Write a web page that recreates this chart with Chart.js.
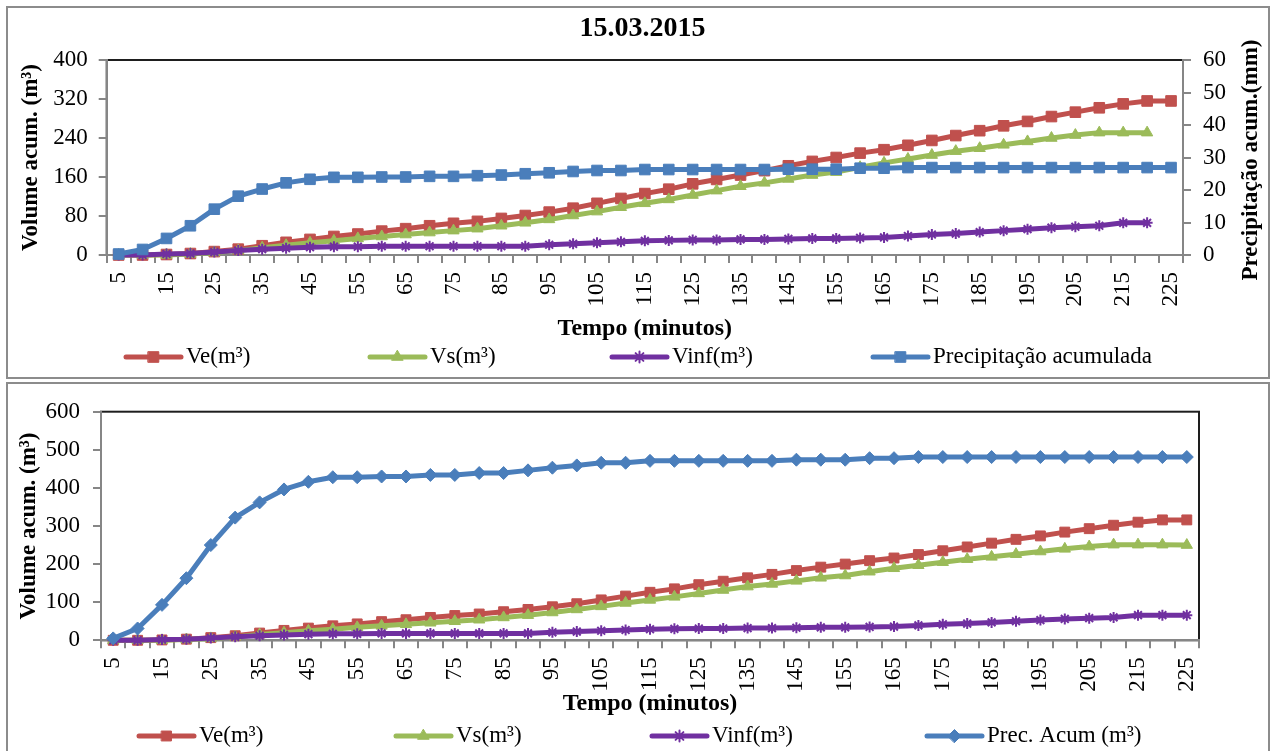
<!DOCTYPE html>
<html lang="pt">
<head>
<meta charset="utf-8">
<title>Volume acumulado - 15.03.2015</title>
<script src="https://cdn.jsdelivr.net/npm/chart.js@4.4.1/dist/chart.umd.min.js"></script>
<style>
  html, body { margin: 0; padding: 0; background: #fff; }
  body { width: 1276px; height: 751px; position: relative; overflow: hidden; }
  .box { position: absolute; left: 6px; width: 1264px; border: 2px solid #8c8c8c; box-sizing: border-box; background: #fff; }
  #boxTop { top: 6px; height: 373px; }
  #boxBottom { top: 382px; height: 374px; }
  canvas { position: absolute; left: 0; top: 0; }
</style>
</head>
<body>
<div class="box" id="boxTop"><canvas id="chartTop" width="1260" height="369"></canvas></div>
<div class="box" id="boxBottom"><canvas id="chartBottom" width="1260" height="367"></canvas></div>
<script>
// Tempo (minutos)
const minutes = ['5', '10', '15', '20', '25', '30', '35', '40', '45', '50', '55', '60', '65', '70', '75',
                 '80', '85', '90', '95', '100', '105', '110', '115', '120', '125', '130', '135', '140', '145', '150',
                 '155', '160', '165', '170', '175', '180', '185', '190', '195', '200', '205', '210', '215', '220', '225'];

// Volumes acumulados (m³)
const ve = [0, 0, 1, 3, 7, 12, 19, 26, 32, 38, 43, 49, 54, 60, 65,
            69, 75, 81, 88, 96, 106, 116, 126, 135, 146, 155, 164, 173, 183, 192,
            200, 209, 216, 225, 235, 245, 255, 265, 274, 284, 293, 302, 310, 316, 316];
const vs = [0, 0, 0, 2, 5, 9, 15, 20, 25, 29, 34, 38, 42, 46, 50,
            54, 60, 66, 73, 81, 89, 98, 106, 114, 123, 132, 141, 148, 156, 164,
            170, 180, 189, 197, 205, 213, 219, 226, 233, 240, 246, 251, 251, 251, 250];
const vinf = [0, 0, 2, 3, 6, 9, 12, 14, 16, 17, 17, 18, 18, 18, 18,
              18, 18, 18, 21, 23, 25, 27, 29, 30, 31, 31, 32, 32, 33, 34,
              34, 35, 36, 39, 42, 44, 47, 50, 53, 56, 58, 60, 66, 66, 66];

// Precipitação acumulada (mm) - gráfico de cima
const precMm = [0.3, 1.7, 5.1, 9.0, 14.1, 18.1, 20.3, 22.2, 23.3, 23.9, 23.9, 24.0, 24.0, 24.2, 24.2,
                24.4, 24.6, 25.0, 25.3, 25.7, 26.0, 26.0, 26.3, 26.3, 26.3, 26.3, 26.3, 26.3, 26.4, 26.4,
                26.4, 26.7, 26.7, 26.9, 26.9, 26.9, 26.9, 26.9, 26.9, 26.9, 26.9, 26.9, 26.9, 26.9, 26.9];
// Prec. Acum (m³) - gráfico de baixo
const precM3 = [5, 31, 93, 163, 250, 322, 362, 396, 416, 428, 428, 430, 430, 434, 434,
                439, 439, 446, 453, 459, 466, 466, 471, 471, 471, 471, 471, 471, 474, 474,
                474, 478, 478, 481, 481, 481, 481, 481, 481, 481, 481, 481, 481, 481, 481];

const RED = '#C0504D';
const GREEN = '#9BBB59';
const PURPLE = '#7030A0';
const BLUE = '#4A7EBB';
const AXIS_GRAY = '#868686';
const FAMILY = "'Liberation Serif', 'Times New Roman', serif";

Chart.defaults.font.family = FAMILY;
Chart.defaults.color = '#000';

// moldura da área do gráfico, legenda espaçada tipo Excel e título do eixo secundário
const excelDecor = {
    id: 'excelDecor',
    beforeDraw(chart) {
        const a = chart.chartArea;
        const ctx = chart.ctx;
        ctx.save();
        ctx.strokeStyle = '#1e1e1e';
        ctx.lineWidth = 2;
        ctx.strokeRect(a.left, a.top, a.right - a.left, a.bottom - a.top);
        ctx.restore();
    },
    afterDraw(chart, args, opts) {
        const ctx = chart.ctx;
        ctx.save();
        chart.data.datasets.forEach((ds, i) => {
            const x = opts.legendX[i];
            const y = opts.legendY;
            ctx.strokeStyle = ds.borderColor;
            ctx.lineWidth = ds.borderWidth;
            ctx.lineCap = 'round';
            ctx.beginPath();
            ctx.moveTo(x, y);
            ctx.lineTo(x + 55, y);
            ctx.stroke();
            ctx.fillStyle = ds.pointBackgroundColor;
            ctx.strokeStyle = ds.pointBorderColor;
            ctx.lineWidth = ds.pointBorderWidth;
            Chart.helpers.drawPoint(ctx, {
                pointStyle: ds.pointStyle,
                radius: ds.pointRadius,
                rotation: 0,
                borderWidth: ds.pointBorderWidth
            }, x + 27.5, y);
            ctx.fillStyle = '#000';
            ctx.font = '23px ' + FAMILY;
            ctx.textAlign = 'left';
            ctx.textBaseline = 'middle';
            ctx.fillText(ds.label, x + 60, y);
        });
        if (opts.rightTitle) {
            ctx.translate(opts.rightTitleX, opts.rightTitleY);
            ctx.rotate(-Math.PI / 2);
            ctx.fillStyle = '#000';
            ctx.font = 'bold 23px ' + FAMILY;
            ctx.textAlign = 'center';
            ctx.textBaseline = 'middle';
            ctx.fillText(opts.rightTitle, 0, 0);
        }
        ctx.restore();
    }
};

function serie(label, data, color, style, radius, axis, order) {
    return {
        label: label,
        data: data,
        yAxisID: axis,
        order: order,
        borderColor: color,
        backgroundColor: color,
        borderWidth: 5,
        borderJoinStyle: 'round',
        borderCapStyle: 'round',
        tension: 0,
        pointStyle: style,
        pointRadius: radius,
        pointBackgroundColor: color,
        pointBorderColor: color,
        pointBorderWidth: style === 'star' ? 2 : 1,
        clip: false
    };
}

function xAxis(height) {
    return {
        type: 'category',
        offset: true,
        grid: { offset: true, drawOnChartArea: false, drawTicks: true, tickLength: 8, color: AXIS_GRAY, lineWidth: 2 },
        border: { display: true, color: AXIS_GRAY, width: 2 },
        ticks: {
            autoSkip: false,
            minRotation: 90,
            maxRotation: 90,
            padding: 9,
            font: { size: 23 },
            callback: function(value, index) {
                return index % 2 === 0 ? this.getLabelForValue(value) : '';
            }
        },
        title: { display: true, text: 'Tempo (minutos)', padding: 0, font: { size: 24, weight: 'bold' } },
        afterFit: (s) => { s.height = height; }
    };
}

function yAxis(pos, max, step, pad, width, titleText) {
    return {
        position: pos,
        min: 0,
        max: max,
        grid: { drawOnChartArea: false, drawTicks: true, tickLength: 8, color: AXIS_GRAY, lineWidth: 2 },
        border: { display: true, color: AXIS_GRAY, width: 2 },
        ticks: { stepSize: step, padding: pad, font: { size: 23 } },
        title: { display: !!titleText, text: titleText || '', padding: 0, font: { size: 23, weight: 'bold' } },
        afterFit: (s) => { s.width = width; }
    };
}

// Gráfico de cima: 15.03.2015
new Chart(document.getElementById('chartTop'), {
    type: 'line',
    data: {
        labels: minutes,
        datasets: [
            serie('Ve(m³)', ve, RED, 'rect', 7.5, 'y', 3),
            serie('Vs(m³)', vs.slice(0, 44), GREEN, 'triangle', 6.5, 'y', 2),
            serie('Vinf(m³)', vinf.slice(0, 44), PURPLE, 'star', 5.5, 'y', 1),
            serie('Precipitação acumulada', precMm, BLUE, 'rect', 7.5, 'y1', 0)
        ]
    },
    options: {
        responsive: false,
        animation: false,
        devicePixelRatio: 1,
        events: [],
        layout: { padding: { top: 0, left: 8.8, right: 0, bottom: 33.6 } },
        scales: {
            x: xAxis(88.4),
            y: yAxis('left', 400, 80, 11, 89.9, 'Volume acum. (m³)'),
            y1: yAxis('right', 60, 10, 12, 85, null)
        },
        plugins: {
            legend: { display: false },
            tooltip: { enabled: false },
            title: {
                display: true,
                text: '15.03.2015',
                color: '#000',
                font: { size: 28, weight: 'bold' },
                padding: { top: 3.5, bottom: 14.9 }
            },
            excelDecor: {
                legendX: [118, 362, 604, 865],
                legendY: 349,
                rightTitle: 'Precipitação acum.(mm)',
                rightTitleX: 1243,
                rightTitleY: 152
            }
        }
    },
    plugins: [excelDecor]
});

// Gráfico de baixo
new Chart(document.getElementById('chartBottom'), {
    type: 'line',
    data: {
        labels: minutes,
        datasets: [
            serie('Ve(m³)', ve, RED, 'rect', 7, 'y', 3),
            serie('Vs(m³)', vs, GREEN, 'triangle', 6.5, 'y', 2),
            serie('Vinf(m³)', vinf, PURPLE, 'star', 5.5, 'y', 1),
            serie('Prec. Acum (m³)', precM3, BLUE, 'rectRot', 6.5, 'y', 0)
        ]
    },
    options: {
        responsive: false,
        animation: false,
        devicePixelRatio: 1,
        events: [],
        layout: { padding: { top: 27.7, left: 6.8, right: 69, bottom: 32.6 } },
        scales: {
            x: xAxis(78.1),
            y: yAxis('left', 600, 100, 13, 86.2, 'Volume acum. (m³)')
        },
        plugins: {
            legend: { display: false },
            tooltip: { enabled: false },
            title: { display: false },
            excelDecor: {
                legendX: [131, 388, 644, 919],
                legendY: 352
            }
        }
    },
    plugins: [excelDecor]
});
</script>
</body>
</html>
